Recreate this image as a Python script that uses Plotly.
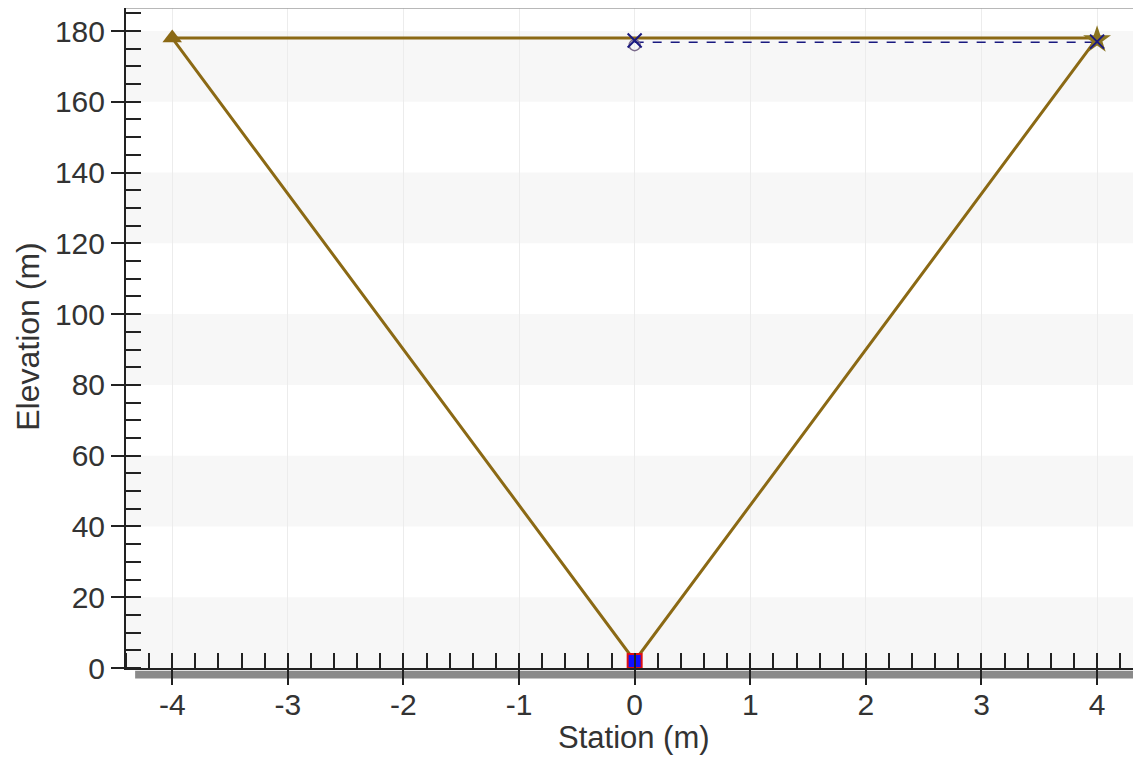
import plotly.graph_objects as go

# Data
channel_x = [-4, 0, 4, -4]
channel_y = [178, 2, 178, 178]
bank_left_x = [-4]
bank_left_y = [178]
bank_right_x = [4]
bank_right_y = [177.5]
ws_x = [0, 4]
ws_y = [176.8, 176.8]
xmark_x = [0, 4]
xmark_y = [177.3, 177.0]
circle_x = [0]
circle_y = [176.0]
thalweg_x = [0]
thalweg_y = [2]

y_ticks = [0, 20, 40, 60, 80, 100, 120, 140, 160, 180]
x_ticks = [-4, -3, -2, -1, 0, 1, 2, 3, 4]
x_labels = [str(v) for v in x_ticks]
y_labels = [str(v) for v in y_ticks]

BROWN = "#8B6914"
NAVY = "#1a1a80"
TXT = "#333333"

fig = go.Figure()

fig.add_trace(go.Scatter(x=channel_x, y=channel_y, mode="lines",
                         line=dict(color=BROWN, width=3), showlegend=False))
fig.add_trace(go.Scatter(x=ws_x, y=ws_y, mode="lines",
                         line=dict(color=NAVY, width=1.5, dash="dash"), showlegend=False))
fig.add_trace(go.Scatter(x=bank_left_x, y=bank_left_y, mode="markers",
                         marker=dict(symbol="triangle-up", size=17, color=BROWN), showlegend=False))
fig.add_trace(go.Scatter(x=bank_right_x, y=bank_right_y, mode="markers",
                         marker=dict(symbol="star", size=21, color="#8B7420"), showlegend=False))
fig.add_trace(go.Scatter(x=circle_x, y=circle_y, mode="markers",
                         marker=dict(symbol="circle-open", size=11, color="#7a6a8a",
                                     line=dict(width=1.5)), showlegend=False))
fig.add_trace(go.Scatter(x=xmark_x, y=xmark_y, mode="markers",
                         marker=dict(symbol="x-thin-open", size=14, color=NAVY,
                                     line=dict(width=2, color=NAVY)), showlegend=False))
fig.add_trace(go.Scatter(x=thalweg_x, y=thalweg_y, mode="markers",
                         marker=dict(symbol="square", size=14, color="#1010ff",
                                     line=dict(width=2, color="#e01010")),
                         showlegend=False, cliponaxis=False))

shapes = []
# alternating horizontal bands
for i in range(0, len(y_ticks) - 1, 2):
    shapes.append(dict(type="rect", xref="paper", yref="y", x0=0, x1=1,
                       y0=y_ticks[i], y1=y_ticks[i + 1],
                       fillcolor="#f7f7f7", line=dict(width=0), layer="below"))
# top frame line
shapes.append(dict(type="line", xref="paper", yref="paper", x0=0, x1=1, y0=1, y1=1,
                   line=dict(color="#a0a0a0", width=1.5)))
# shadow under x axis
shapes.append(dict(type="rect", xref="paper", yref="paper", x0=0.009, x1=1.0,
                   y0=-0.016, y1=-0.004, fillcolor="#8a8a8a", line=dict(width=0),
                   layer="below"))

annotations = [
    dict(text="Station (m)", xref="paper", yref="paper", x=0.5, y=-0.106,
         showarrow=False, xanchor="center", yanchor="middle",
         font=dict(size=31, color=TXT)),
    dict(text="Elevation (m)", xref="paper", yref="paper", x=-0.0965, y=0.502,
         showarrow=False, xanchor="center", yanchor="middle", textangle=-90,
         font=dict(size=32, color=TXT)),
]

fig.update_layout(
    width=1133, height=754,
    margin=dict(l=118, r=0, t=0, b=94),
    paper_bgcolor="white", plot_bgcolor="white",
    font=dict(family="Liberation Sans, Arial, sans-serif", color=TXT, size=30),
    shapes=shapes,
    annotations=annotations,
    xaxis=dict(range=[-4.4, 4.38], tickvals=x_ticks, ticktext=x_labels, ticks="outside",
               ticklen=15, tickwidth=2, tickcolor="#222", showline=True, linecolor="#222",
               linewidth=2, showgrid=True, gridcolor="#ececec", gridwidth=1, zeroline=False,
               automargin=False, ticklabelstandoff=-6,
               minor=dict(dtick=0.2, tick0=0, ticks="inside", ticklen=15, tickwidth=2,
                          tickcolor="#222", showgrid=False),
               tickfont=dict(size=30)),
    yaxis=dict(range=[0, 186.5], tickvals=y_ticks, ticktext=y_labels, ticks="outside",
               ticklen=13, tickwidth=2, tickcolor="#222", showline=True, linecolor="#222",
               linewidth=2, showgrid=False, zeroline=False, automargin=False,
               minor=dict(dtick=5, tick0=0, ticks="inside", ticklen=15, tickwidth=2,
                          tickcolor="#222", showgrid=False),
               tickfont=dict(size=30)),
)

fig.write_html("out.html")
